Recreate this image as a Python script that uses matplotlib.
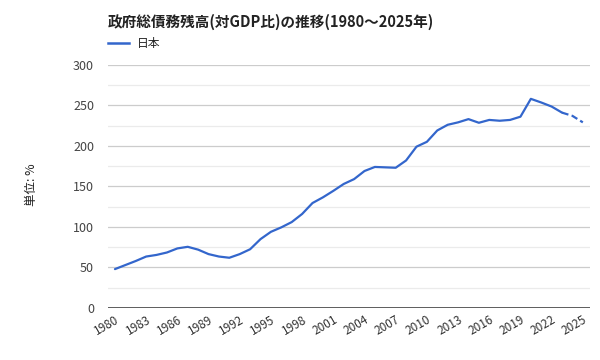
import matplotlib
matplotlib.use("Agg")
import matplotlib.pyplot as plt
from matplotlib.ticker import MultipleLocator

plt.rcParams["font.family"] = ["Noto Sans CJK JP", "DejaVu Sans"]

years = list(range(1980, 2026))
debt = [48, 53, 58, 63.5, 65.5, 68.5, 73.5, 75.5, 72, 66.5,
        63.5, 62, 66.5, 72.5, 85, 94, 99.5, 106, 116, 129.5,
        136.5, 144.5, 153, 159, 169, 174, 173.5, 173, 182, 199,
        205, 219, 226, 229, 233, 228.5, 232, 231, 232, 236,
        258, 253.5, 248.5, 241, 237, 229]
estimate_from = 2023
xtick_years = list(range(1980, 2026, 3))

title = "政府総債務残高(対GDP比)の推移(1980〜2025年)"
series_name = "日本"
ylabel = "単位: %"

blue = "#3366cc"

fig = plt.figure(figsize=(6, 3.6), dpi=100)
ax = fig.add_axes([0.18, 0.1444, 0.803, 0.6756])

i = years.index(estimate_from)
ax.plot(years[:i + 1], debt[:i + 1], color=blue, lw=1.6, solid_capstyle="round")
ax.plot(years[i:], debt[i:], color=blue, lw=1.6, dashes=(3, 1.5))

ax.set_xlim(1979.33, 2025.67)
ax.set_ylim(0, 300)
ax.yaxis.set_major_locator(MultipleLocator(50))
ax.yaxis.set_minor_locator(MultipleLocator(25))
ax.grid(which="major", axis="y", color="#cccccc", lw=0.9)
ax.grid(which="minor", axis="y", color="#ebebeb", lw=0.9)
ax.set_axisbelow(True)
ax.axhline(0, color="#333333", lw=1.1)

ax.set_xticks(xtick_years)
ax.set_xticklabels([str(y) for y in xtick_years], rotation=30, ha="right",
                   rotation_mode="anchor", fontsize=8.5, color="#333333")
ax.tick_params(axis="x", length=0, pad=4)
ax.tick_params(axis="y", which="both", length=0, pad=10, labelsize=9, labelcolor="#444444")

for s in ax.spines.values():
    s.set_visible(False)

fig.text(32 / 600, 1 - 185 / 360, ylabel, rotation=90, ha="center", va="center",
         fontsize=9, color="#222222")
fig.text(108 / 600, 1 - 22 / 360, title, ha="left", va="center",
         fontsize=10.5, fontweight="bold", color="#222222")
fig.add_artist(plt.Line2D([108 / 600, 129 / 600], [1 - 43 / 360, 1 - 43 / 360],
                          color=blue, lw=1.8, transform=fig.transFigure))
fig.text(137 / 600, 1 - 43 / 360, series_name, ha="left", va="center",
         fontsize=8.5, color="#222222")

fig.savefig("out.png", dpi=100)
